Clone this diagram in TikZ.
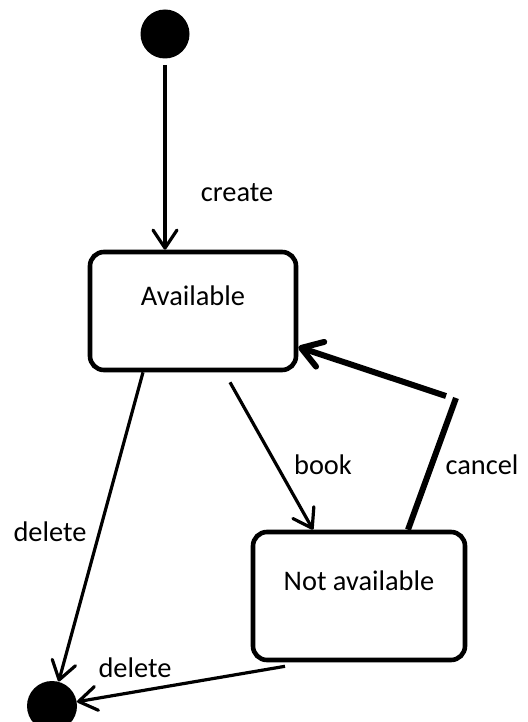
\documentclass[tikz,border=0pt]{standalone}
\usepackage{fontspec}
\setmainfont{Carlito}
\usetikzlibrary{arrows.meta}
\tikzset{
  state/.style={draw,line width=2.3pt,rounded corners=7pt,text height=10pt,text depth=16pt},
  dot/.style={circle,fill=black,inner sep=0pt},
  trans/.style={line width=1.6pt,-{Straight Barb[length=9pt,width=12pt,round]}},
  thicktrans/.style={line width=3pt,-{Straight Barb[length=10pt,width=13pt,round]}}
}
\begin{document}
\begin{tikzpicture}[x=0.5pt,y=-0.5pt,font=\fontsize{14.2}{17}\selectfont]
  \useasboundingbox (0,0) rectangle (527,722);
  %% start and end
  \node[dot,minimum size=24.5pt] (init) at (165,34) {};
  \node[dot,minimum size=25pt] (final) at (52,706) {};
  %% states
  \node[state,minimum width=103pt,minimum height=59pt] (av) at (193,311) {Available};
  \node[state,minimum width=106pt,minimum height=64pt] (na) at (359,596) {Not available};
  %% corner of the cancel line
  \coordinate (c1) at (456,398);
  \coordinate (c2) at (446,396);
  %% transitions
  \draw[trans,shorten <=3pt] (init.south) -- (init.south |- av.north);
  \draw[trans] ([xshift=-25pt]av.south) -- (final);
  \draw[trans] ([xshift=18.5pt,yshift=-5pt]av.south) -- ([xshift=-23pt]na.north);
  \draw[line width=3pt] ([xshift=24.5pt]na.north) -- (c1);
  \draw[thicktrans] (c2) -- ([yshift=-18pt]av.east);
  \draw[trans] ([xshift=-37pt,yshift=-2pt]na.south) -- (final);
  %% labels
  \node (lcreate) at (237,193) {create};
  \node (lbook) at (323,465) {book};
  \node (lcancel) at (482,465) {cancel};
  \node (ldel1) at (50,532) {delete};
  \node (ldel2) at (135,668) {delete};
\end{tikzpicture}
\end{document}
